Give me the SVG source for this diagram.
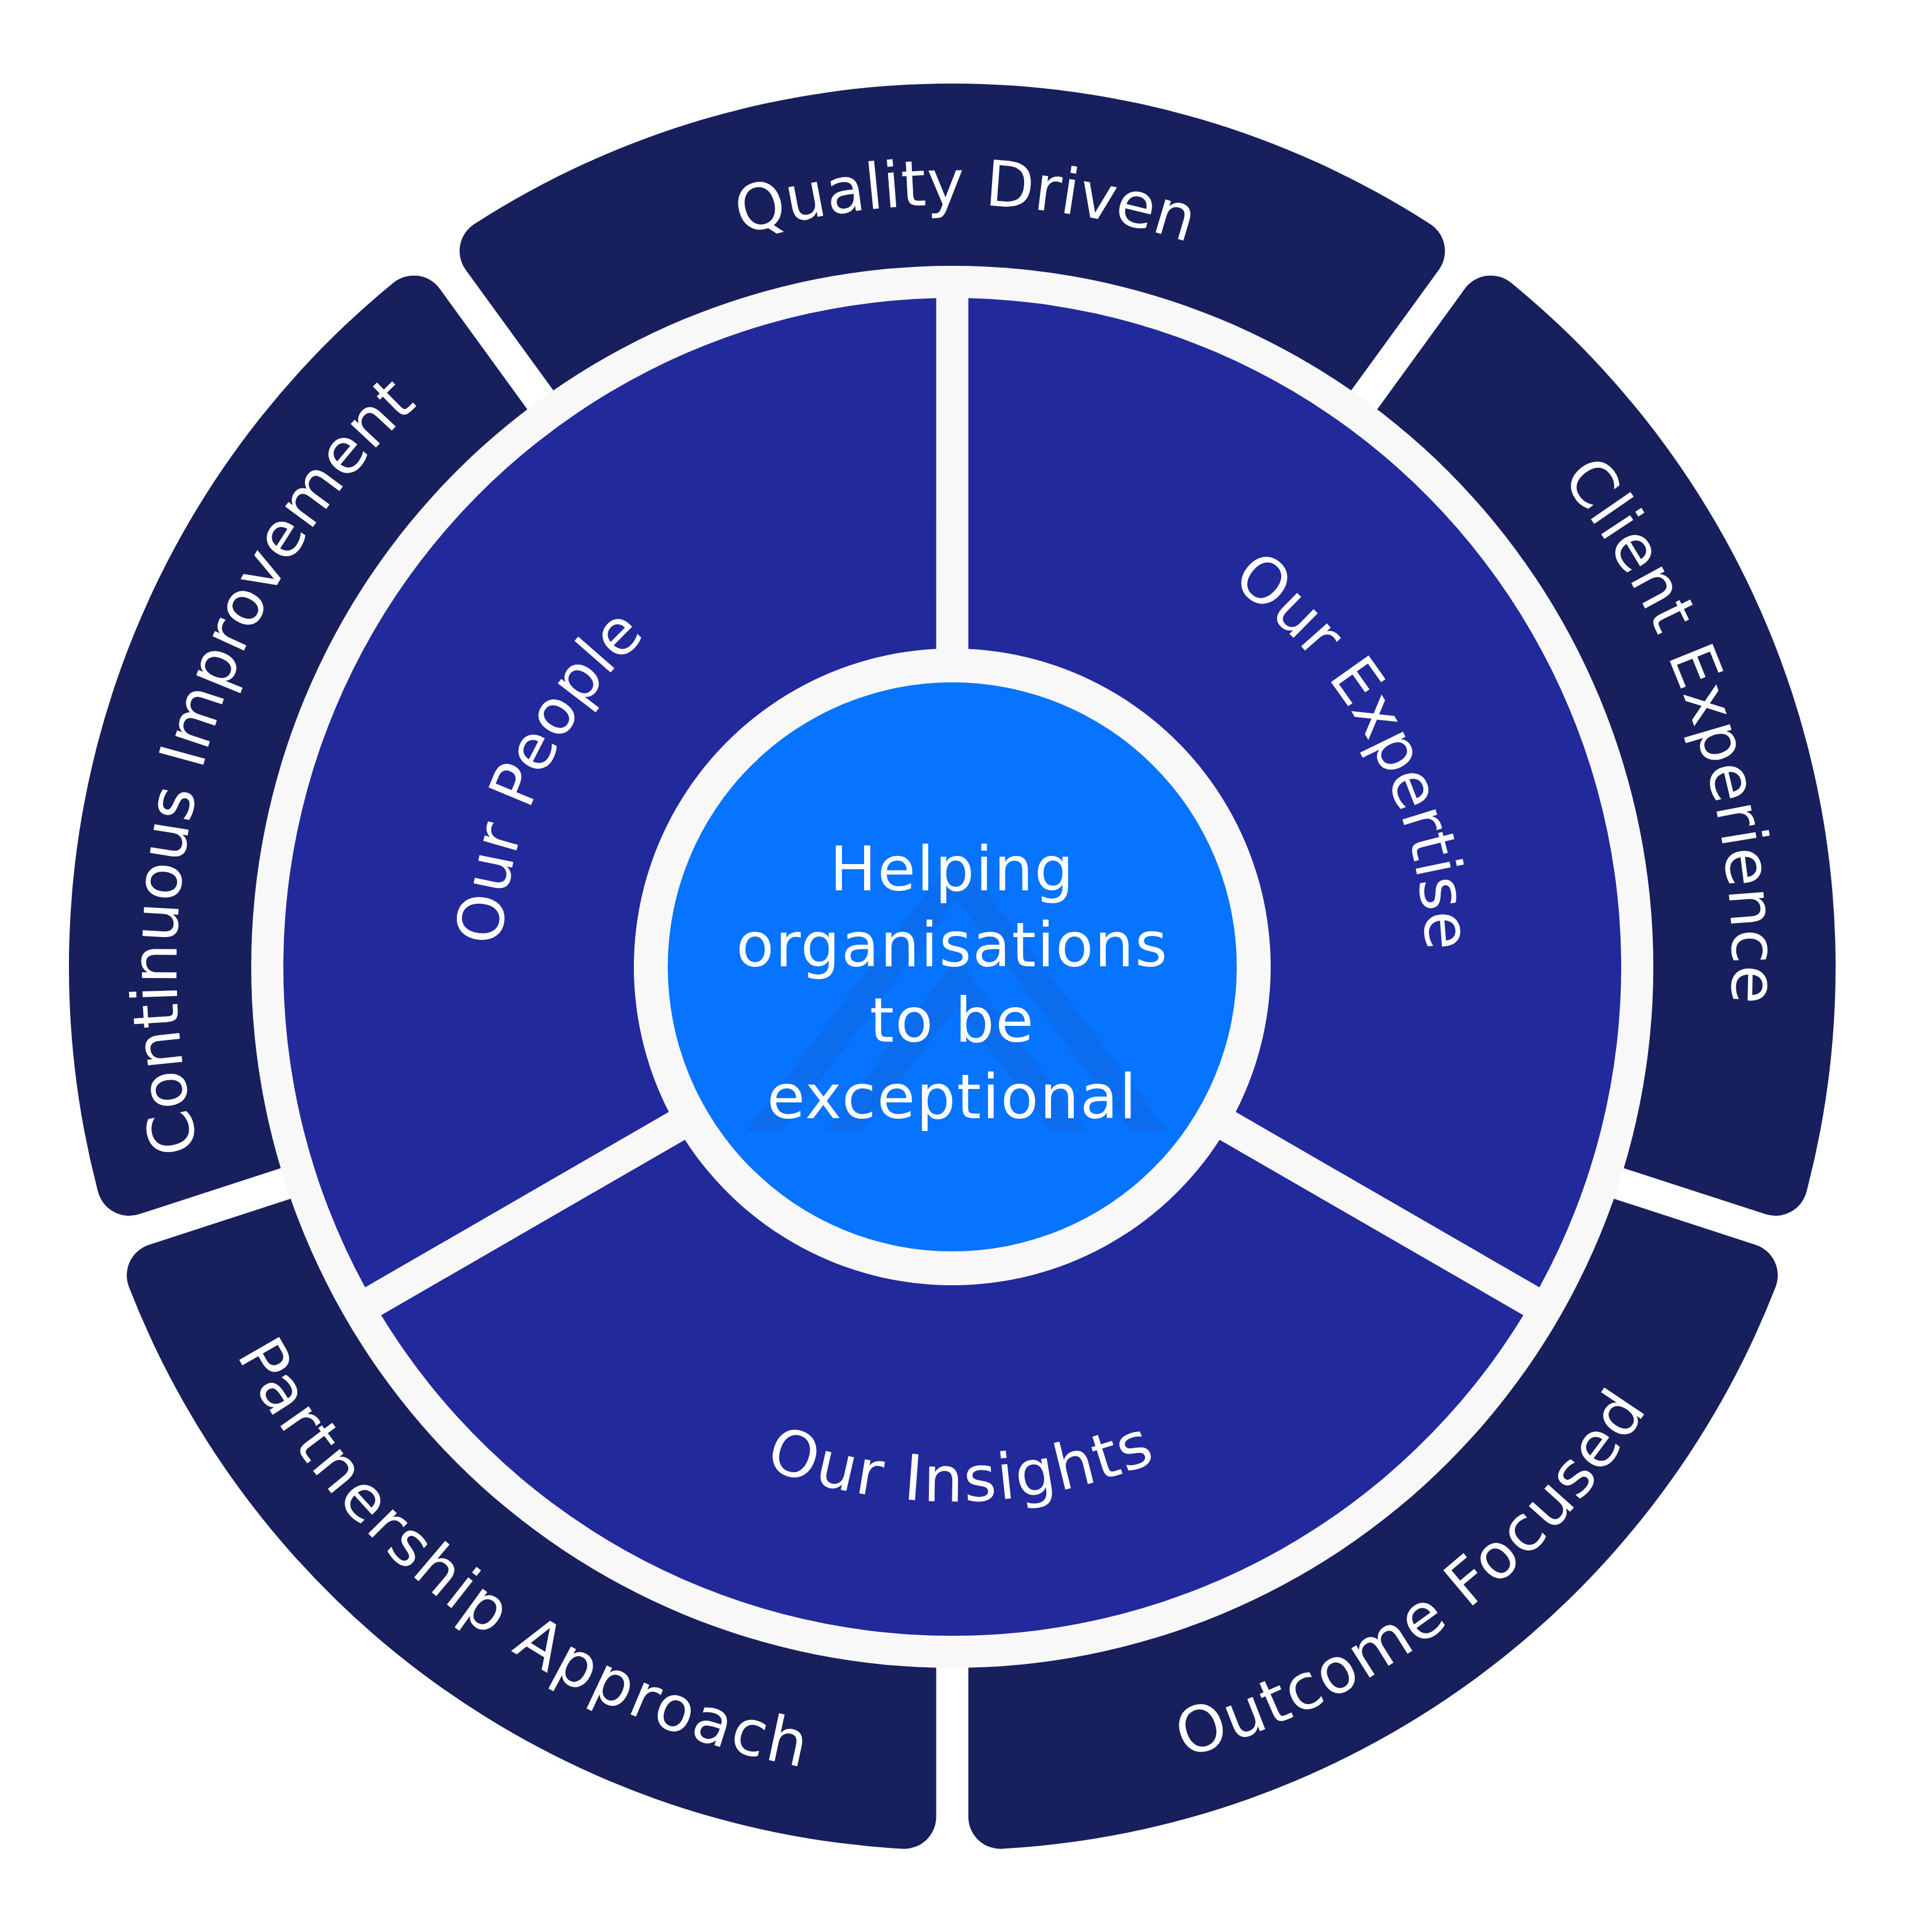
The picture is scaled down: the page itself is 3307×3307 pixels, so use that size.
<svg xmlns="http://www.w3.org/2000/svg" xmlns:xlink="http://www.w3.org/1999/xlink" width="3307" height="3307" viewBox="0 0 3307 3307">
<style>
.outer{fill:#17205c}
.inner{fill:#21299b}
.disc{fill:#f8f8f8}
.core{fill:#0774ff}
.logo{fill:#0c6cee}
.lbl{font-family:'DejaVu Sans','Liberation Sans',sans-serif;font-size:108px;fill:#ffffff;text-anchor:middle}
.ls0{letter-spacing:0px}
.ls1{letter-spacing:1px}
.ls3{letter-spacing:3px}
.ls4{letter-spacing:4px}
.ctr{font-family:'DejaVu Sans','Liberation Sans',sans-serif;font-size:106px;fill:#ffffff;letter-spacing:2px;text-anchor:middle}
</style>
<defs>
<path id="oseg" d="M 952.98 676.37 L 797.22 461.99 A 55 55 0 0 1 811.95 383.40 A 1512 1512 0 0 1 2448.05 383.40 A 55 55 0 0 1 2462.78 461.99 L 2307.02 676.37 A 1190 1190 0 0 0 952.98 676.37 Z"/>
<path id="iseg" d="M 1657.5 1110.69 L 1657.5 510.33 A 1145 1145 0 0 1 2635.06 2203.52 L 2115.14 1903.34 A 545 545 0 0 0 1657.5 1110.69 Z"/>
<path id="p-quality" d="M 324.2 1632.2 A 1306 1306 0 0 1 2935.8 1677.8"/>
<path id="p-client" d="M 1215.9 380.6 A 1340 1340 0 0 1 2044.1 2929.4"/>
<path id="p-continuous" d="M 1254.9 2928.7 A 1327 1327 0 0 1 2005.1 381.3"/>
<path id="p-outcome" d="M 503.9 2503.6 A 1410 1410 0 0 0 2756.1 806.4"/>
<path id="p-partnership" d="M 497.4 832.1 A 1400 1400 0 0 0 2762.6 2477.9"/>
<path id="p-people" d="M 1303.7 2354.7 A 772 772 0 0 1 1956.3 955.3"/>
<path id="p-expertise" d="M 1247.4 935.4 A 815 815 0 0 1 2012.6 2374.6"/>
<path id="p-insights" d="M 715.1 1671.0 A 915 915 0 0 0 2544.9 1639.0"/>
</defs>
<rect width="3307" height="3307" fill="#ffffff"/>

<g id="quality-driven">
<use href="#oseg" class="outer"/>
<text class="lbl ls0"><textPath href="#p-quality" startOffset="50%">Quality Driven</textPath></text>
</g>
<g id="client-experience">
<use href="#oseg" class="outer" transform="rotate(72 1630 1655)"/>
<text class="lbl ls1"><textPath href="#p-client" startOffset="50%">Client Experience</textPath></text>
</g>
<g id="outcome-focused">
<use href="#oseg" class="outer" transform="rotate(144 1630 1655)"/>
<text class="lbl ls3"><textPath href="#p-outcome" startOffset="50%">Outcome Focused</textPath></text>
</g>
<g id="partnership-approach">
<use href="#oseg" class="outer" transform="rotate(216 1630 1655)"/>
<text class="lbl ls4"><textPath href="#p-partnership" startOffset="50%">Partnership Approach</textPath></text>
</g>
<g id="continuous-improvement">
<use href="#oseg" class="outer" transform="rotate(288 1630 1655)"/>
<text class="lbl ls1"><textPath href="#p-continuous" startOffset="50%">Continuous Improvement</textPath></text>
</g>

<circle class="disc" cx="1630" cy="1655" r="1200"/>

<g id="our-expertise">
<use href="#iseg" class="inner"/>
<text class="lbl ls0"><textPath href="#p-expertise" startOffset="50%">Our Expertise</textPath></text>
</g>
<g id="our-insights">
<use href="#iseg" class="inner" transform="rotate(120 1630 1655)"/>
<text class="lbl ls3"><textPath href="#p-insights" startOffset="50%">Our Insights</textPath></text>
</g>
<g id="our-people">
<use href="#iseg" class="inner" transform="rotate(240 1630 1655)"/>
<text class="lbl ls1"><textPath href="#p-people" startOffset="50%">Our People</textPath></text>
</g>

<g id="center">
<circle class="core" cx="1630" cy="1655" r="487"/>
<polygon class="logo" points="1277,1936 1638,1460 1999,1936 1938,1936 1638,1540 1337,1936"/>
<polygon class="logo" points="1414,1936 1638,1641 1861,1936 1800,1936 1638,1722 1475,1936"/>
<text class="ctr" x="1630" y="1524">Helping</text>
<text class="ctr" x="1630" y="1654">organisations</text>
<text class="ctr" x="1630" y="1783">to be</text>
<text class="ctr" x="1630" y="1914">exceptional</text>
</g>

<g id="connectors"></g>
</svg>
